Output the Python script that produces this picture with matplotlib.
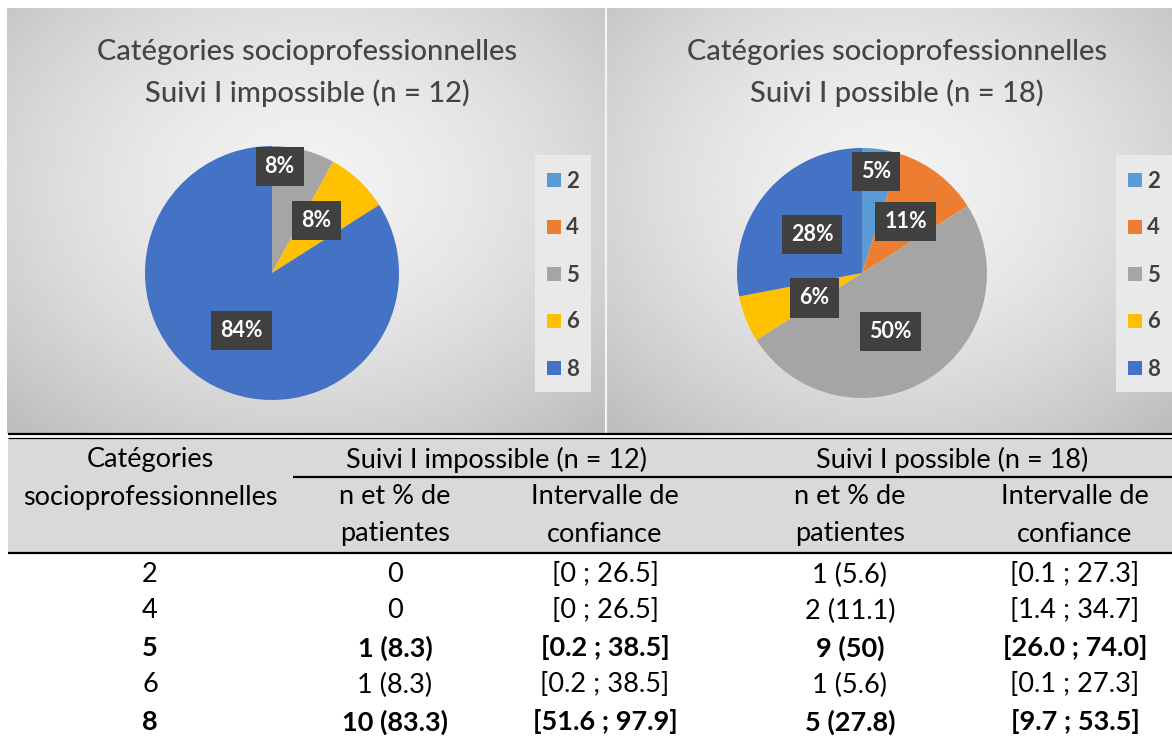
import numpy as np
import matplotlib.pyplot as plt
from matplotlib.patches import Rectangle

plt.rcParams["font.family"] = ["Lato", "DejaVu Sans"]

# data
categories = ["2", "4", "5", "6", "8"]
pct_impossible = [0, 0, 8, 8, 84]
pct_possible = [5, 11, 50, 6, 28]
colors = ["#5b9bd5", "#ed7d31", "#a5a5a5", "#ffc000", "#4472c4"]

title_impossible = "Catégories socioprofessionnelles\nSuivi I impossible (n = 12)"
title_possible = "Catégories socioprofessionnelles\nSuivi I possible (n = 18)"

group_headers = ["Suivi I impossible (n = 12)", "Suivi I possible (n = 18)"]
sub_headers = ["n et % de\npatientes", "Intervalle de\nconfiance",
               "n et % de\npatientes", "Intervalle de\nconfiance"]
n_impossible = ["0", "0", "1 (8.3)", "1 (8.3)", "10 (83.3)"]
ci_impossible = ["[0 ; 26.5]", "[0 ; 26.5]", "[0.2 ; 38.5]", "[0.2 ; 38.5]", "[51.6 ; 97.9]"]
n_possible = ["1 (5.6)", "2 (11.1)", "9 (50)", "1 (5.6)", "5 (27.8)"]
ci_possible = ["[0.1 ; 27.3]", "[1.4 ; 34.7]", "[26.0 ; 74.0]", "[0.1 ; 27.3]", "[9.7 ; 53.5]"]
bold_rows = ["5", "8"]

W, H = 1172, 738
fig = plt.figure(figsize=(W / 100, H / 100), dpi=100)
bg = fig.add_axes([0, 0, 1, 1])
bg.axis("off")


def gradient_panel(x0, x1, y0, y1):
    yy, xx = np.mgrid[0:1:200j, 0:1:200j]
    d = np.sqrt(((xx - 0.5) / 0.75) ** 2 + ((yy - 0.42) / 0.8) ** 2)
    img = 0.95 - 0.22 * d ** 1.6
    bg.imshow(img, extent=(x0, x1, y1, y0), cmap="gray", vmin=0, vmax=1,
              aspect="auto", interpolation="bilinear", zorder=0)


def lines_text(x, y0, text, step, **kw):
    # one text per line so the line gap matches the reference
    for k, line in enumerate(text.split("\n")):
        bg.text(x, y0 + k * step, line, ha="center", va="center", **kw)


gradient_panel(7, 605, 8, 433)
gradient_panel(607, 1172, 8, 433)
bg.plot([606, 606], [8, 433], color="#ececec", lw=1.0, zorder=1)

# legend patches
for lx in (535, 1116):
    bg.add_patch(Rectangle((lx, 155), 56, 237, fc="#e9e9e9", ec="none", zorder=1))
    for i, (cat, col) in enumerate(zip(categories, colors)):
        y = 180 + i * 47
        bg.add_patch(Rectangle((lx + 12, y - 7), 14, 14, fc=col, ec="none", zorder=2))
        bg.text(lx + 31, y + 1, cat, fontsize=16, fontweight="bold", color="#404040",
                va="center", ha="left", zorder=3)

# titles
for cx, t in ((307, title_impossible), (897, title_possible)):
    lines_text(cx, 52, t, 41, fontsize=21, color="#454545", fontweight="medium")

# table header band and rules
bg.add_patch(Rectangle((8, 438), W - 8, 115, fc="#d9d9d9", ec="none", zorder=1))
bg.plot([8, W], [434, 434], color="black", lw=1.6, solid_capstyle="butt")
bg.plot([8, W], [437.5, 437.5], color="black", lw=0.9, solid_capstyle="butt")
bg.plot([293, W], [477, 477], color="black", lw=1.6, solid_capstyle="butt")
bg.plot([8, W], [553, 553], color="black", lw=1.6, solid_capstyle="butt")

fs = 19.5
lines_text(150, 460, "Catégories\nsocioprofessionnelles", 37, fontsize=fs)
for cx, t in zip((497, 952), group_headers):
    bg.text(cx, 460, t, ha="center", va="center", fontsize=fs)
col_x = [395, 605, 850, 1075]
for cx, t in zip(col_x, sub_headers):
    lines_text(cx, 497, t, 37, fontsize=fs)

row_y = [575, 611, 648, 685, 722]
for i, cat in enumerate(categories):
    fw = "bold" if cat in bold_rows else "normal"
    vals = [cat, n_impossible[i], ci_impossible[i], n_possible[i], ci_possible[i]]
    for cx, v in zip([150] + col_x, vals):
        bg.text(cx, row_y[i], v, ha="center", va="center", fontsize=fs, fontweight=fw)

bg.set_xlim(0, W)
bg.set_ylim(H, 0)

# pies
label_pos_impossible = [None, None, (0.06, 0.84), (0.35, 0.41), (-0.24, -0.45)]
label_pos_possible = [(0.11, 0.81), (0.35, 0.41), (0.23, -0.47), (-0.38, -0.20), (-0.40, 0.31)]


def draw_pie(cx, cy, r, values, label_pos):
    ax = fig.add_axes([(cx - r) / W, 1 - (cy + r) / H, 2 * r / W, 2 * r / H])
    ax.pie(values, colors=colors, startangle=90, counterclock=False, radius=1,
           wedgeprops=dict(linewidth=0))
    for v, pos in zip(values, label_pos):
        if v == 0 or pos is None:
            continue
        ax.text(pos[0], pos[1], f"{v}%", ha="center", va="center", fontsize=15.5,
                fontweight="bold", color="white",
                bbox=dict(boxstyle="square,pad=0.42", fc="#404040", ec="none"))
    ax.set_xlim(-1, 1)
    ax.set_ylim(-1, 1)
    ax.axis("off")


draw_pie(272, 273, 127, pct_impossible, label_pos_impossible)
draw_pie(862, 273, 125, pct_possible, label_pos_possible)

fig.savefig("out.png", dpi=100)
